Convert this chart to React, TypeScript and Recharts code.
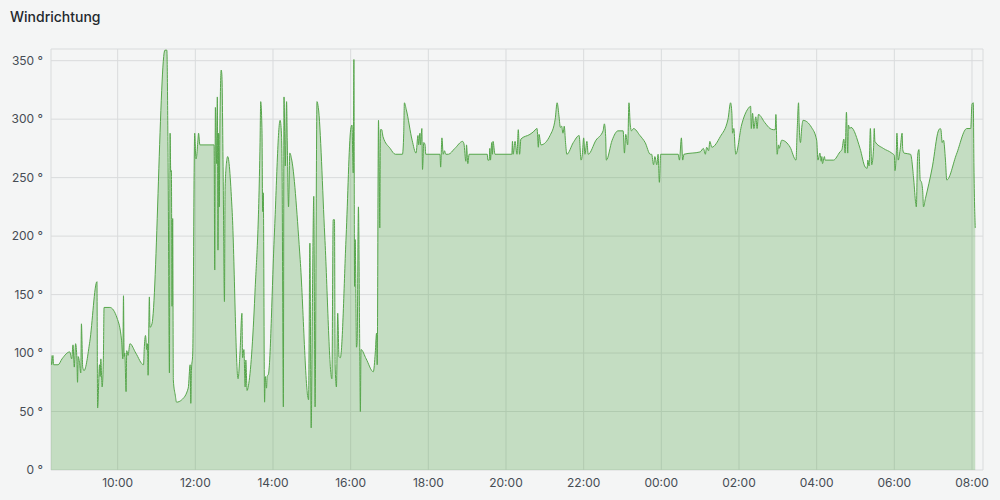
import { AreaChart, Area, XAxis, YAxis, CartesianGrid } from 'recharts';

// minutes since 00:00 of the first day, wind direction in degrees
const morning: [number, number][] = [
  [497, 98], [498, 90], [500, 98], [501, 90], [508, 90], [514, 95], [526, 101], [529, 95],
  [531, 107], [533, 88], [535, 108], [537, 95], [538, 75], [539, 97], [541, 92], [543, 83],
  [544, 125], [546, 88], [548, 85], [557, 110], [568, 161], [569, 53], [572, 90], [573, 80],
  [574, 95], [576, 71], [578, 98], [579, 139], [588, 139], [599, 130], [606, 111], [608, 95],
  [609, 149], [610, 97], [611, 100], [613, 67], [614, 102], [616, 98], [619, 108], [628, 100],
  [640, 90], [641, 103], [643, 115], [645, 103], [646, 108], [647, 81], [649, 148], [650, 122],
  [653, 125],
];

const midday: [number, number][] = [
  [673, 359], [676, 359], [678, 254], [680, 83], [681, 288], [682, 255], [683, 256], [684, 140],
  [685, 215], [686, 77], [689, 64], [691, 58], [699, 60], [709, 70], [712, 90], [713, 57],
  [714, 85], [716, 100], [719, 288], [721, 266], [722, 268], [724, 282], [725, 288], [727, 278],
  [749, 278], [750, 171], [751, 310], [753, 262], [754, 319], [755, 188], [756, 288], [757, 225],
  [758, 295], [760, 342], [761, 338], [763, 253], [765, 144], [766, 240], [768, 262], [770, 268],
  [777, 220],
];

const afternoon: [number, number][] = [
  [786, 78], [789, 100], [792, 134], [793, 96], [795, 103], [797, 71], [798, 94], [800, 68],
  [802, 72], [812, 150], [820, 280], [821, 315], [823, 290], [824, 221], [825, 237], [827, 58],
  [828, 80], [830, 70], [831, 80], [833, 82], [842, 200], [851, 299], [853, 288], [854, 259],
  [856, 54], [857, 319], [859, 260], [861, 315], [862, 282], [864, 225], [866, 271], [869, 265],
  [882, 180], [895, 60], [897, 194], [899, 36], [901, 150], [903, 234], [905, 54], [908, 315],
  [910, 310], [920, 200], [931, 78], [933, 214], [935, 214], [936, 90], [938, 71], [940, 134],
  [942, 97], [944, 96], [953, 200], [960, 291], [962, 295], [964, 254], [965, 351], [966, 157],
  [967, 197], [969, 105], [970, 110], [972, 225], [974, 105], [975, 50], [976, 103], [984, 95],
];

const evening: [number, number][] = [
  [995, 84], [998, 100], [1000, 117], [1001, 90], [1003, 299], [1004, 262], [1005, 207],
  [1006, 291], [1008, 291], [1010, 285], [1021, 275], [1029, 270], [1040, 270], [1042, 288],
  [1043, 314], [1046, 308], [1055, 282], [1061, 271], [1064, 286], [1065, 278], [1067, 288],
  [1068, 278], [1070, 292], [1071, 257], [1073, 280], [1075, 278], [1076, 270], [1098, 270],
  [1099, 259], [1101, 284], [1103, 270], [1105, 273], [1107, 270], [1111, 270], [1121, 275],
  [1133, 281], [1135, 279], [1138, 264], [1139, 278], [1141, 262], [1143, 270], [1171, 270],
  [1172, 265], [1174, 265], [1175, 275], [1176, 265], [1178, 280], [1179, 270], [1180, 281],
  [1183, 270], [1209, 270], [1210, 281],
];

const lateEvening: [number, number][] = [
  [1211, 270], [1214, 281], [1217, 270], [1219, 291], [1221, 270], [1223, 283], [1237, 287],
  [1242, 289], [1248, 292], [1250, 276], [1251, 287], [1254, 278], [1268, 286], [1276, 300],
  [1279, 314], [1282, 302], [1284, 293], [1286, 294], [1288, 288], [1290, 294], [1292, 280],
  [1294, 270], [1304, 280], [1313, 286], [1316, 265], [1318, 270], [1320, 284], [1322, 270],
  [1325, 281], [1327, 270], [1339, 282], [1350, 290], [1352, 296], [1354, 285], [1355, 265],
  [1364, 282], [1373, 290], [1381, 290], [1383, 271], [1385, 287], [1388, 278], [1390, 314],
  [1392, 295], [1394, 290], [1397, 292], [1407, 286], [1415, 280], [1423, 270], [1425, 270],
  [1428, 261], [1430, 268], [1433, 261], [1435, 270], [1437, 246], [1439, 270],
];

const night: [number, number][] = [
  [1466, 270], [1468, 265], [1471, 284], [1473, 265], [1475, 270], [1500, 272], [1505, 275],
  [1508, 270], [1510, 276], [1513, 273], [1515, 281], [1518, 276], [1531, 285], [1543, 300],
  [1547, 314], [1549, 305], [1550, 288], [1552, 292], [1554, 275], [1555, 270], [1564, 295],
  [1574, 309], [1578, 311], [1579, 292], [1581, 305], [1583, 292], [1586, 302], [1588, 292],
  [1590, 304], [1600, 297], [1608, 292], [1613, 291], [1616, 291], [1617, 304], [1619, 270],
  [1621, 278], [1622, 275], [1626, 282], [1639, 276], [1648, 265], [1650, 292], [1652, 314],
  [1653, 295], [1655, 280], [1657, 293], [1659, 299], [1672, 293], [1680, 282], [1682, 265],
  [1685, 271], [1687, 264], [1688, 268], [1689, 262], [1692, 268], [1693, 265], [1706, 265],
];

const earlyMorning: [number, number][] = [
  [1716, 272], [1719, 274], [1722, 283], [1724, 271], [1726, 306], [1728, 271], [1729, 295],
  [1731, 292], [1733, 293], [1747, 275], [1755, 259], [1758, 258], [1759, 265], [1761, 260],
  [1763, 292], [1765, 261], [1768, 276], [1769, 292], [1770, 281], [1783, 275], [1796, 271],
  [1800, 269], [1801, 256], [1803, 271], [1804, 288], [1806, 265], [1809, 274], [1812, 288],
  [1813, 274], [1815, 271], [1825, 270], [1830, 248], [1833, 228], [1834, 225], [1836, 269],
  [1838, 274], [1840, 248], [1842, 246], [1844, 237], [1845, 225], [1848, 232], [1859, 260],
  [1868, 290], [1871, 292], [1872, 291], [1874, 280], [1876, 282], [1879, 265], [1881, 248],
  [1896, 270], [1912, 292], [1918, 292], [1920, 313], [1922, 314], [1923, 260], [1925, 207],
];

const xTicks = [600, 720, 840, 960, 1080, 1200, 1320, 1440, 1560, 1680, 1800, 1920];
const yTicks = [0, 50, 100, 150, 200, 250, 300, 350];

const data = [
  ...morning, ...midday, ...afternoon, ...evening, ...lateEvening, ...night, ...earlyMorning,
].map(([t, v]) => ({ t, v }));

const fmtTime = (m: number) => {
  const mm = ((m % 1440) + 1440) % 1440;
  const h = Math.floor(mm / 60);
  const min = Math.round(mm % 60);
  return `${String(h).padStart(2, '0')}:${String(min).padStart(2, '0')}`;
};

const green = '#56a64b';
const tickStyle = { fill: '#464c54', fontSize: 12, fontFamily: 'Inter, sans-serif' };

export default function App() {
  return (
    <div style={{ position: 'relative', width: 1000, height: 500, background: '#f4f5f5' }}>
      <style>{`body { margin: 0; background: #f4f5f5; }`}</style>
      <div
        style={{
          position: 'absolute',
          left: 10,
          top: 9,
          fontFamily: 'Inter, sans-serif',
          fontSize: 14,
          fontWeight: 500,
          lineHeight: '16px',
          color: '#24292e',
        }}
      >
        Windrichtung
      </div>
      <AreaChart
        width={1000}
        height={500}
        data={data}
        margin={{ top: 49, right: 17, bottom: 0, left: 0 }}
      >
        <CartesianGrid stroke="#d9dbdc" strokeWidth={1} />
        <XAxis
          dataKey="t"
          type="number"
          domain={[497, 1937]}
          ticks={xTicks}
          tickFormatter={fmtTime}
          axisLine={false}
          tickLine={false}
          height={30}
          tick={tickStyle}
          allowDataOverflow
        />
        <YAxis
          type="number"
          domain={[0, 360]}
          ticks={yTicks}
          tickFormatter={(v) => `${v} °`}
          axisLine={false}
          tickLine={false}
          width={51}
          tick={tickStyle}
        />
        <Area
          type="monotone"
          dataKey="v"
          stroke={green}
          strokeWidth={1}
          fill={green}
          fillOpacity={0.3}
          dot={false}
          activeDot={false}
          isAnimationActive={false}
        />
      </AreaChart>
    </div>
  );
}
